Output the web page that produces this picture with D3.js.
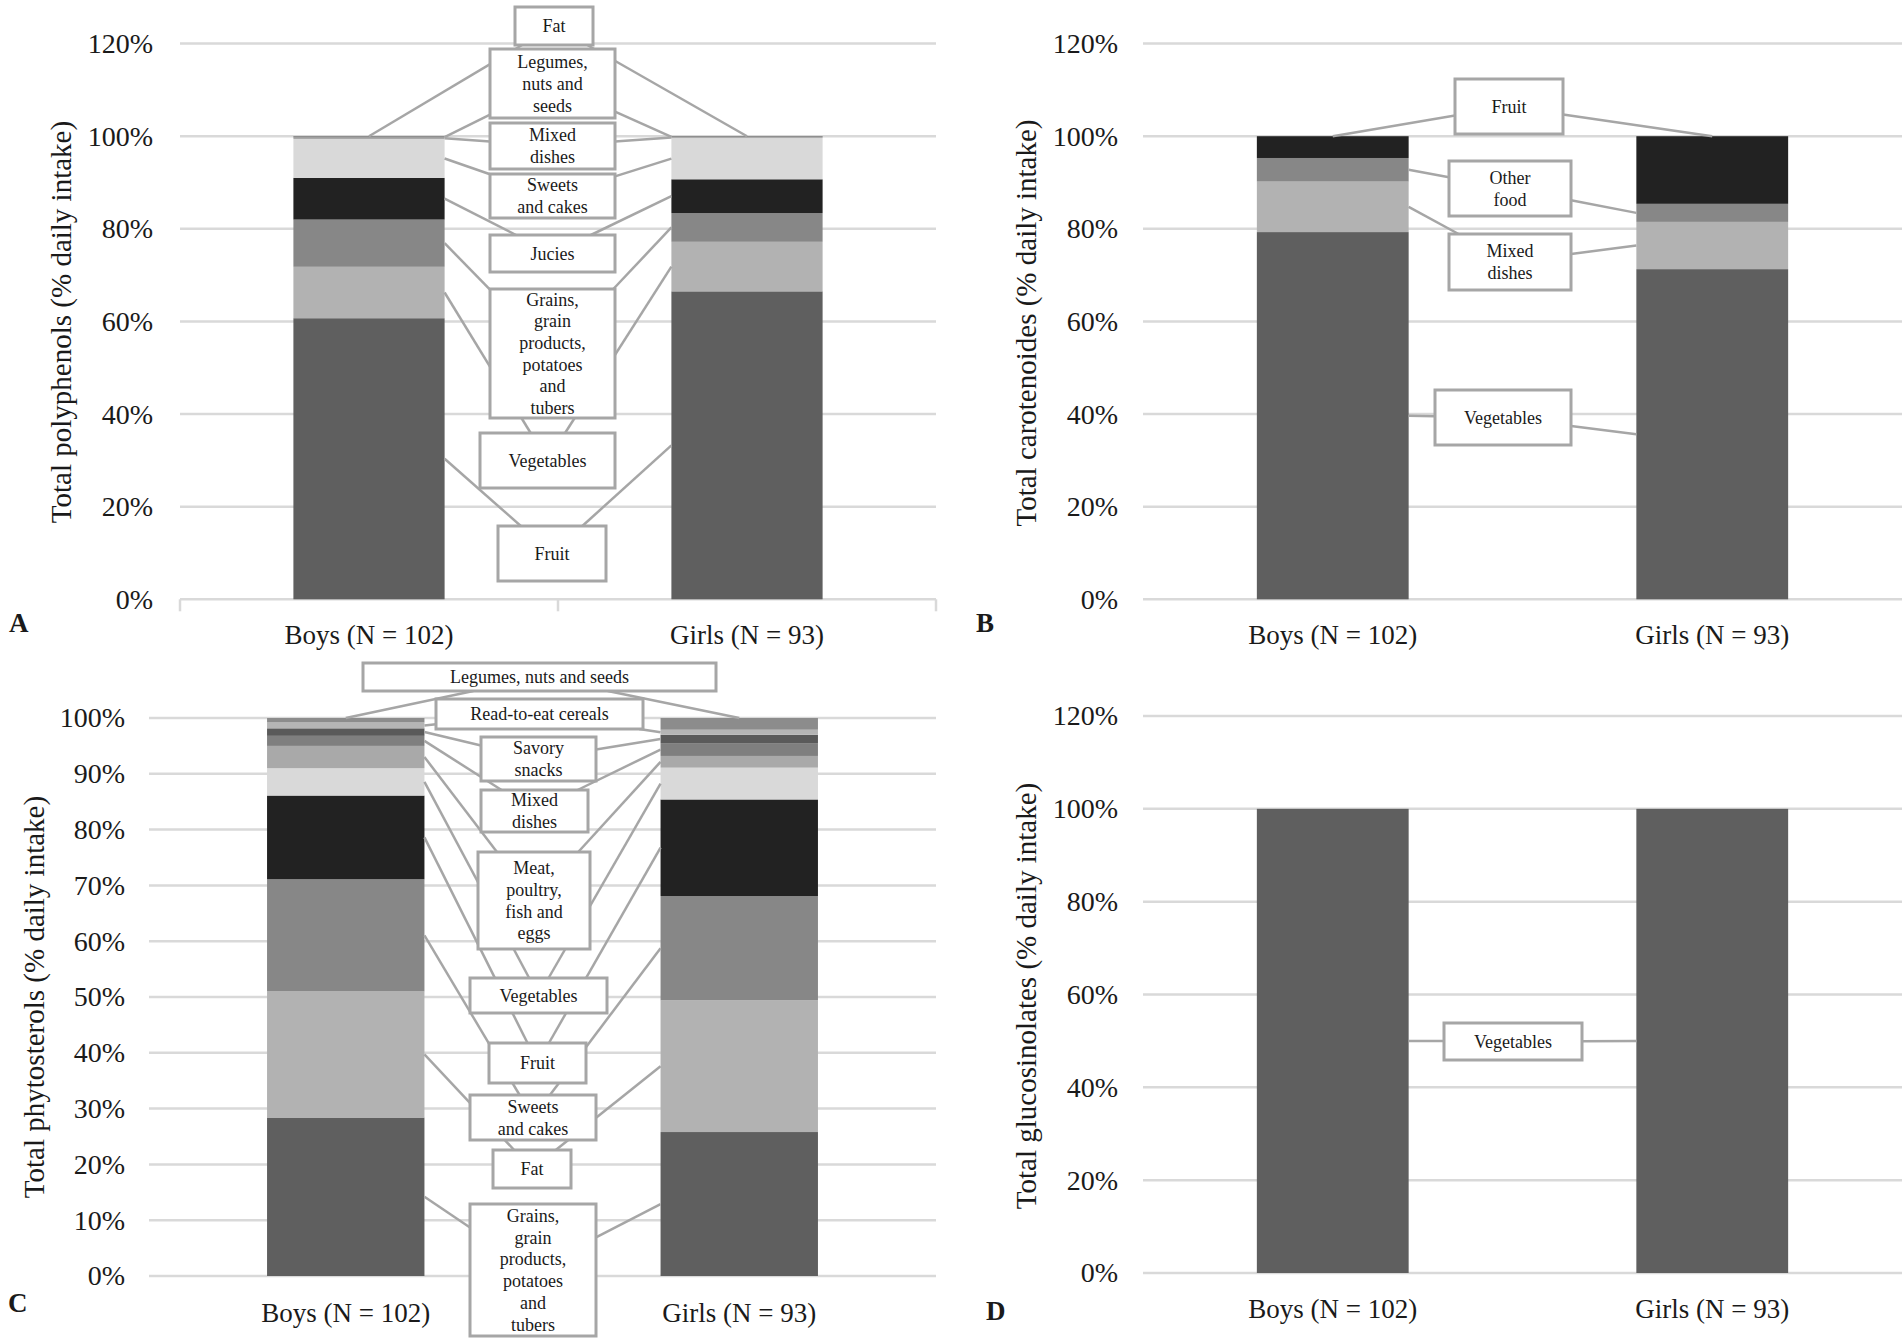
<!DOCTYPE html>
<html>
<head>
<meta charset="utf-8">
<script src="https://cdn.jsdelivr.net/npm/d3@7"></script>
<style>
body { margin: 0; background: #fff; }
svg { display: block; }
</style>
</head>
<body>
<div id="chart"></div>
<script>
// categories
var groups = ["Boys (N = 102)", "Girls (N = 93)"];

// A - polyphenols (bottom to top)
var polyFoods = ["Fruit", "Vegetables", "Grains, grain products, potatoes and tubers", "Jucies",
                 "Sweets and cakes", "Mixed dishes", "Legumes, nuts and seeds", "Fat"];
var polyBoys  = [60.7, 11.1, 10.2, 9.0, 8.4, 0.3, 0.2, 0.1];
var polyGirls = [66.5, 10.7, 6.2, 7.3, 8.9, 0.2, 0.1, 0.1];

// B - carotenoides
var caroFoods = ["Vegetables", "Mixed dishes", "Other food", "Fruit"];
var caroBoys  = [79.3, 10.9, 5.1, 4.7];
var caroGirls = [71.3, 10.2, 3.9, 14.6];

// C - phytosterols
var phytoFoods = ["Grains, grain products, potatoes and tubers", "Fat", "Sweets and cakes", "Fruit",
                  "Vegetables", "Meat, poultry, fish and eggs", "Mixed dishes", "Savory snacks",
                  "Read-to-eat cereals", "Legumes, nuts and seeds"];
var phytoBoys  = [28.4, 22.6, 20.1, 15.0, 4.9, 4.0, 1.8, 1.35, 1.05, 0.8];
var phytoGirls = [25.8, 23.6, 18.7, 17.3, 5.7, 2.1, 2.3, 1.5, 0.9, 2.1];

// D - glucosinolates
var glucoFoods = ["Vegetables"];
var glucoBoys  = [100];
var glucoGirls = [100];

var palette = ["#5f5f5f", "#b2b2b2", "#878787", "#222222", "#d9d9d9",
               "#a9a9a9", "#7f7f7f", "#5a5a5a", "#b5b5b5", "#8c8c8c"];
var font = "'Liberation Serif', 'Times New Roman', serif";

// label boxes: wrapped text + box [x0, y0, x1, y1]
var polyLabels = [
  {lines: ["Fruit"], box: [498, 526, 606, 581]},
  {lines: ["Vegetables"], box: [480, 433, 615, 488]},
  {lines: ["Grains,", "grain", "products,", "potatoes", "and", "tubers"], box: [490, 289, 615, 418]},
  {lines: ["Jucies"], box: [490, 235, 615, 272]},
  {lines: ["Sweets", "and cakes"], box: [490, 174, 615, 218]},
  {lines: ["Mixed", "dishes"], box: [490, 123, 615, 169]},
  {lines: ["Legumes,", "nuts and", "seeds"], box: [490, 49, 615, 118]},
  {lines: ["Fat"], box: [515, 7, 593, 45]}
];
var caroLabels = [
  {lines: ["Vegetables"], box: [1435, 390, 1571, 445]},
  {lines: ["Mixed", "dishes"], box: [1449, 234, 1571, 290]},
  {lines: ["Other", "food"], box: [1449, 161, 1571, 216]},
  {lines: ["Fruit"], box: [1455, 79, 1563, 134]}
];
var phytoLabels = [
  {lines: ["Grains,", "grain", "products,", "potatoes", "and", "tubers"], box: [470, 1204, 596, 1336]},
  {lines: ["Fat"], box: [493, 1150, 571, 1188]},
  {lines: ["Sweets", "and cakes"], box: [470, 1095, 596, 1140]},
  {lines: ["Fruit"], box: [489, 1043, 586, 1083]},
  {lines: ["Vegetables"], box: [470, 978, 607, 1013]},
  {lines: ["Meat,", "poultry,", "fish and", "eggs"], box: [478, 852, 590, 949]},
  {lines: ["Mixed", "dishes"], box: [481, 790, 588, 832]},
  {lines: ["Savory", "snacks"], box: [481, 737, 596, 781]},
  {lines: ["Read-to-eat cereals"], box: [436, 699, 643, 729]},
  {lines: ["Legumes, nuts and seeds"], box: [363, 663, 716, 691]}
];
var glucoLabels = [
  {lines: ["Vegetables"], box: [1444, 1023, 1582, 1060]}
];

var svg = d3.select("#chart").append("svg").attr("width", 1902).attr("height", 1340);

drawPanel({letter: "A", title: "Total polyphenols (% daily intake)", foods: polyFoods, boys: polyBoys, girls: polyGirls,
  labels: polyLabels, x0: 180, x1: 936, yBottom: 599.3, yTop: 43.6, yMax: 120, step: 20, tickRight: 153,
  titleX: 61, titleY: 322, letterX: 9, letterY: 632, catY: 644, axisTicks: true});
drawPanel({letter: "B", title: "Total carotenoides (% daily intake)", foods: caroFoods, boys: caroBoys, girls: caroGirls,
  labels: caroLabels, x0: 1143, x1: 1902, yBottom: 599.3, yTop: 43.6, yMax: 120, step: 20, tickRight: 1118,
  titleX: 1026, titleY: 323, letterX: 976, letterY: 632, catY: 644, axisTicks: false});
drawPanel({letter: "C", title: "Total phytosterols (% daily intake)", foods: phytoFoods, boys: phytoBoys, girls: phytoGirls,
  labels: phytoLabels, x0: 149, x1: 936, yBottom: 1276, yTop: 718, yMax: 100, step: 10, tickRight: 125,
  titleX: 34, titleY: 997, letterX: 8, letterY: 1312, catY: 1322, axisTicks: false});
drawPanel({letter: "D", title: "Total glucosinolates (% daily intake)", foods: glucoFoods, boys: glucoBoys, girls: glucoGirls,
  labels: glucoLabels, x0: 1143, x1: 1902, yBottom: 1273, yTop: 716, yMax: 120, step: 20, tickRight: 1118,
  titleX: 1026, titleY: 996, letterX: 986, letterY: 1320, catY: 1318, axisTicks: false});

// point on the box border, on the line from the anchor to the box centre
function edgePoint(p, b) {
  var cx = (b[0] + b[2]) / 2, cy = (b[1] + b[3]) / 2,
      hw = (b[2] - b[0]) / 2, hh = (b[3] - b[1]) / 2,
      dx = p[0] - cx, dy = p[1] - cy;
  var s = Math.min(dx ? hw / Math.abs(dx) : Infinity, dy ? hh / Math.abs(dy) : Infinity);
  return [cx + dx * s, cy + dy * s];
}

function drawPanel(p) {
  var g = svg.append("g");
  var x = d3.scaleBand().domain(groups).range([p.x0, p.x1]).paddingInner(0.6).paddingOuter(0.3);
  var y = d3.scaleLinear().domain([0, p.yMax]).range([p.yBottom, p.yTop]);
  var ticks = d3.range(0, p.yMax + 0.001, p.step);

  // gridlines
  g.selectAll(".grid").data(ticks).enter().append("line")
    .attr("x1", p.x0).attr("x2", p.x1)
    .attr("y1", function(d) { return y(d); }).attr("y2", function(d) { return y(d); })
    .attr("stroke", "#d9d9d9").attr("stroke-width", 2.5);

  if (p.axisTicks) {
    var edges = [p.x0, (p.x0 + p.x1) / 2, p.x1];
    g.selectAll(".xt").data(edges).enter().append("line")
      .attr("x1", function(d) { return d; }).attr("x2", function(d) { return d; })
      .attr("y1", p.yBottom).attr("y2", p.yBottom + 12)
      .attr("stroke", "#d9d9d9").attr("stroke-width", 2.5);
  }

  // y tick labels
  var ax = g.append("g").attr("transform", "translate(" + p.tickRight + ",0)")
    .call(d3.axisLeft(y).tickValues(ticks).tickFormat(function(d) { return d + "%"; }).tickSize(0).tickPadding(0));
  ax.select(".domain").remove();
  ax.attr("font-family", font).attr("font-size", 28);
  ax.selectAll("text").attr("fill", "#1a1a1a");

  // category labels
  var bx = g.append("g").attr("transform", "translate(0," + p.yBottom + ")")
    .call(d3.axisBottom(x).tickSize(0));
  bx.select(".domain").remove();
  bx.attr("font-family", font).attr("font-size", 27);
  bx.selectAll("text").attr("fill", "#1a1a1a").attr("y", p.catY - p.yBottom).attr("dy", 0);

  // stacked bars
  var rows = groups.map(function(name, j) {
    var r = {group: name}, vals = j === 0 ? p.boys : p.girls;
    p.foods.forEach(function(f, i) { r[f] = vals[i]; });
    return r;
  });
  var series = d3.stack().keys(p.foods)(rows);

  g.selectAll(".ser").data(series).enter().append("g")
    .attr("fill", function(d, i) { return palette[i]; })
    .selectAll("rect").data(function(d) { return d; }).enter().append("rect")
    .attr("x", function(d) { return x(d.data.group); })
    .attr("width", x.bandwidth())
    .attr("y", function(d) { return y(d[1]); })
    .attr("height", function(d) { return y(d[0]) - y(d[1]); });

  // leader lines
  var lg = g.append("g").attr("stroke", "#a6a6a6").attr("stroke-width", 2.5);
  series.forEach(function(s, i) {
    var box = p.labels[i].box;
    s.forEach(function(d, j) {
      var a;
      if (i === series.length - 1 && series.length > 1) {
        a = [x(d.data.group) + x.bandwidth() / 2, y(d[1])];
      } else {
        a = [j === 0 ? x(d.data.group) + x.bandwidth() : x(d.data.group), y((d[0] + d[1]) / 2)];
      }
      var e = edgePoint(a, box);
      lg.append("line").attr("x1", a[0]).attr("y1", a[1]).attr("x2", e[0]).attr("y2", e[1]);
    });
  });

  // label boxes
  var lb = g.selectAll(".lab").data(p.labels).enter().append("g");
  lb.append("rect")
    .attr("x", function(d) { return d.box[0]; }).attr("y", function(d) { return d.box[1]; })
    .attr("width", function(d) { return d.box[2] - d.box[0]; })
    .attr("height", function(d) { return d.box[3] - d.box[1]; })
    .attr("fill", "#fff").attr("stroke", "#a6a6a6").attr("stroke-width", 3);
  lb.each(function(d) {
    var cx = (d.box[0] + d.box[2]) / 2, cy = (d.box[1] + d.box[3]) / 2, lh = 21.7, n = d.lines.length;
    var t = d3.select(this).append("text").attr("font-family", font).attr("font-size", 18)
      .attr("text-anchor", "middle").attr("fill", "#1a1a1a");
    d.lines.forEach(function(line, k) {
      t.append("tspan").attr("x", cx).attr("y", cy + (k - (n - 1) / 2) * lh).attr("dy", "0.35em").text(line);
    });
  });

  // axis title
  g.append("text").attr("transform", "translate(" + p.titleX + "," + p.titleY + ") rotate(-90)")
    .attr("text-anchor", "middle").attr("dy", "0.35em")
    .attr("font-family", font).attr("font-size", 29).attr("fill", "#1a1a1a").text(p.title);

  // panel letter
  g.append("text").attr("x", p.letterX).attr("y", p.letterY)
    .attr("font-family", font).attr("font-size", 27).attr("font-weight", "bold").attr("fill", "#1a1a1a")
    .text(p.letter);
}
</script>
</body>
</html>
